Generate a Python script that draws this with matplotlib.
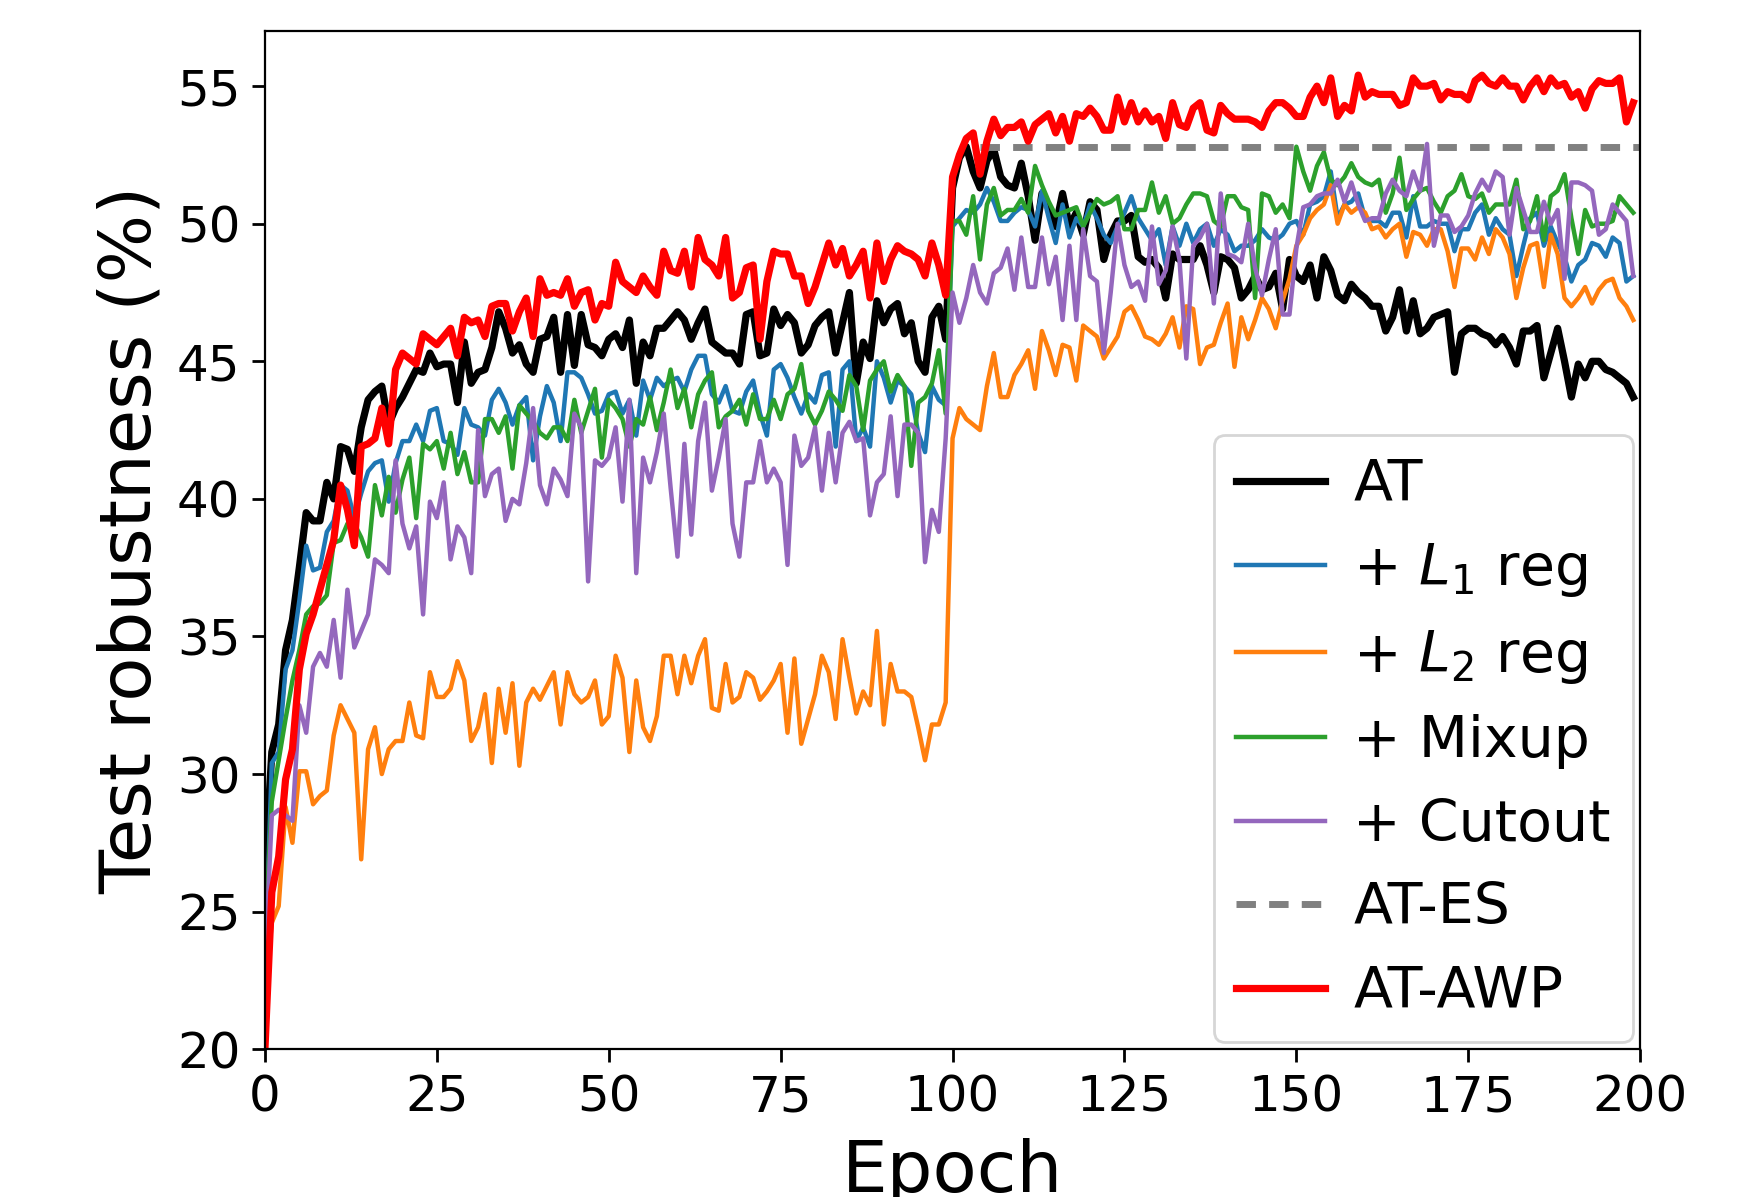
import matplotlib
matplotlib.use("Agg")
import matplotlib.pyplot as plt
import numpy as np

# test robustness (%) per epoch
at = [26.5, 30.8, 31.8, 34.5, 35.6, 37.5, 39.5, 39.2, 39.2, 40.6,
      40.0, 41.9, 41.8, 41.0, 42.6, 43.6, 43.9, 44.1, 42.7, 43.3,
      43.7, 44.2, 44.7, 44.6, 45.3, 44.8, 44.9, 44.9, 43.5, 45.7,
      44.2, 44.6, 44.7, 45.5, 46.8, 46.2, 45.3, 45.6, 44.9, 44.6,
      45.8, 45.9, 46.6, 44.6, 46.7, 44.85, 46.7, 45.6, 45.5, 45.2,
      45.8, 46.0, 45.5, 46.5, 44.2, 45.7, 45.2, 46.2, 46.2, 46.5,
      46.8, 46.5, 45.8, 46.4, 46.9, 45.7, 45.5, 45.3, 45.3, 44.9,
      46.7, 46.8, 45.2, 45.3, 46.9, 46.3, 46.7, 46.4, 45.3, 45.6,
      46.3, 46.6, 46.8, 45.3, 46.4, 47.5, 44.2, 45.7, 45.1, 47.2,
      46.4, 46.9, 47.1, 46.0, 46.4, 45.0, 44.6, 46.6, 47.0, 45.8,
      51.3, 52.4, 52.8, 51.9, 51.3, 52.3, 52.7, 51.7, 51.4, 51.3,
      52.2, 51.0, 49.4, 51.1, 50.6, 49.9, 51.1, 49.9, 50.4, 49.6,
      50.8, 50.5, 48.7, 49.6, 50.1, 50.1, 50.3, 48.8, 48.6, 48.7,
      48.4, 47.3, 48.9, 48.7, 48.7, 48.7, 49.2, 48.5, 47.5, 48.8,
      48.7, 48.4, 47.3, 47.6, 48.1, 47.6, 47.7, 48.2, 46.9, 48.7,
      48.1, 47.9, 48.5, 47.3, 48.8, 48.3, 47.4, 47.2, 47.8, 47.5,
      47.3, 47.0, 47.0, 46.1, 46.6, 47.6, 46.1, 47.2, 46.0, 46.2,
      46.6, 46.7, 46.8, 44.6, 46.0, 46.2, 46.2, 46.0, 45.9, 45.6,
      45.9, 45.5, 44.9, 46.1, 46.1, 46.3, 44.4, 45.3, 46.2, 45.0,
      43.7, 44.9, 44.4, 45.0, 45.0, 44.7, 44.6, 44.4, 44.2, 43.7]

l1_reg = [23.0, 30.4, 30.8, 33.8, 34.5, 36.3, 38.3, 37.4, 37.5, 38.8,
          39.2, 40.5, 40.3, 39.3, 40.2, 41.0, 41.3, 41.4, 39.9, 41.3,
          42.1, 42.1, 42.7, 42.1, 43.2, 43.3, 42.1, 42.0, 41.6, 43.3,
          42.7, 42.6, 42.3, 43.6, 44.0, 43.5, 42.7, 43.4, 43.7, 41.4,
          43.0, 44.1, 43.5, 42.1, 44.6, 44.6, 44.4, 43.8, 43.1, 43.2,
          43.8, 43.9, 43.1, 43.6, 42.3, 44.3, 43.6, 44.4, 44.1, 44.3,
          44.4, 43.9, 44.7, 45.2, 45.2, 43.8, 43.5, 44.1, 43.2, 43.1,
          43.9, 44.3, 43.1, 42.3, 44.7, 44.9, 44.4, 43.7, 43.1, 43.8,
          43.5, 44.5, 44.6, 41.9, 44.7, 45.0, 42.1, 42.6, 41.9, 45.0,
          44.4, 43.5, 44.3, 44.1, 43.8, 42.4, 41.7, 44.1, 43.6, 43.4,
          49.9, 50.2, 50.5, 50.4, 50.7, 51.3, 50.8, 50.1, 50.1, 50.4,
          50.6, 50.5, 49.9, 51.2, 50.2, 49.3, 50.7, 49.5, 50.2, 49.9,
          50.7, 50.2, 49.6, 49.3, 49.9, 50.4, 51.0, 50.2, 49.8, 49.4,
          49.8, 48.5, 49.9, 49.2, 50.0, 49.3, 49.8, 50.0, 49.2, 49.8,
          49.6, 49.0, 49.2, 49.2, 49.4, 49.8, 49.5, 49.4, 49.6, 50.0,
          50.1, 49.6, 50.7, 50.8, 51.0, 51.9, 50.2, 50.7, 50.8, 51.1,
          50.2, 50.1, 50.1, 49.9, 50.4, 50.4, 49.5, 51.0, 49.9, 49.9,
          50.1, 50.0, 50.0, 49.0, 49.8, 49.8, 50.4, 50.7, 49.6, 50.2,
          49.8, 49.6, 48.1, 49.2, 50.2, 50.4, 49.2, 49.9, 49.3, 48.8,
          47.9, 48.5, 48.7, 49.3, 49.2, 48.8, 49.5, 49.3, 47.9, 48.1]

l2_reg = [22.0, 24.6, 25.2, 28.8, 27.5, 30.1, 30.1, 28.9, 29.2, 29.4,
          31.4, 32.5, 32.0, 31.5, 26.9, 30.9, 31.7, 30.0, 30.9, 31.2,
          31.2, 32.6, 31.4, 31.3, 33.7, 32.8, 32.8, 33.1, 34.1, 33.4,
          31.2, 31.7, 32.9, 30.4, 33.1, 31.5, 33.3, 30.3, 32.6, 33.1,
          32.7, 33.2, 33.7, 31.8, 33.7, 32.9, 32.6, 32.8, 33.4, 31.8,
          32.1, 34.3, 33.5, 30.8, 33.4, 31.7, 31.2, 32.1, 34.3, 34.3,
          32.9, 34.3, 33.3, 34.3, 34.9, 32.4, 32.3, 34.0, 32.6, 32.8,
          33.7, 33.5, 32.7, 33.0, 33.4, 34.0, 31.5, 34.2, 31.1, 32.0,
          32.9, 34.3, 33.7, 32.0, 34.9, 33.5, 32.2, 33.0, 32.5, 35.2,
          31.8, 34.0, 33.0, 33.0, 32.8, 31.7, 30.5, 31.8, 31.8, 32.6,
          42.2, 43.3, 42.9, 42.7, 42.5, 44.1, 45.3, 43.7, 43.7, 44.5,
          44.9, 45.4, 44.0, 46.1, 45.4, 44.5, 45.6, 45.5, 44.3, 46.3,
          46.1, 45.9, 45.1, 45.5, 45.9, 46.8, 47.0, 46.5, 45.9, 45.8,
          45.6, 46.0, 46.6, 45.5, 47.0, 46.9, 44.9, 45.5, 45.6, 46.4,
          47.1, 44.8, 46.6, 45.8, 46.5, 47.3, 46.9, 46.2, 47.2, 48.0,
          49.2, 49.6, 50.2, 50.5, 50.7, 51.4, 50.0, 50.7, 50.4, 50.6,
          50.4, 49.8, 49.9, 49.5, 49.8, 50.0, 48.8, 49.7, 49.6, 49.2,
          49.8, 49.8, 49.0, 47.7, 49.1, 49.1, 48.7, 49.5, 48.9, 49.8,
          49.5, 48.9, 47.3, 48.4, 49.2, 49.3, 47.7, 49.6, 48.9, 47.3,
          47.0, 47.3, 47.7, 47.1, 47.6, 47.9, 48.0, 47.3, 47.0, 46.5]

mixup = [24.0, 29.0, 30.5, 32.0, 33.4, 34.5, 35.8, 36.1, 36.2, 36.5,
         38.4, 38.5, 39.1, 39.1, 38.6, 37.9, 40.5, 39.4, 40.8, 39.5,
         40.7, 41.5, 39.3, 42.0, 41.8, 42.1, 41.1, 42.4, 40.9, 41.7,
         40.6, 40.6, 42.9, 42.9, 42.4, 43.0, 41.1, 43.4, 43.1, 42.8,
         42.4, 42.2, 42.6, 42.6, 42.1, 43.6, 42.4, 43.2, 44.0, 41.5,
         43.6, 43.3, 42.9, 41.9, 42.9, 42.7, 43.7, 42.5, 43.5, 44.7,
         43.3, 44.0, 42.6, 43.8, 44.3, 44.6, 42.6, 43.0, 43.2, 43.6,
         42.7, 43.8, 42.9, 42.9, 43.6, 42.9, 43.8, 44.0, 44.9, 43.2,
         42.7, 43.2, 43.9, 43.6, 43.2, 44.5, 44.1, 42.5, 44.3, 44.7,
         45.0, 43.9, 44.5, 44.1, 41.2, 43.5, 43.7, 44.2, 45.4, 43.1,
         50.1, 50.1, 49.6, 51.0, 48.7, 50.7, 51.3, 50.3, 50.5, 50.5,
         50.9, 50.4, 52.1, 51.4, 50.8, 50.3, 50.4, 50.5, 50.6, 49.9,
         50.4, 50.9, 50.7, 50.8, 51.0, 49.8, 49.8, 50.5, 50.5, 51.5,
         50.4, 51.0, 50.0, 50.2, 50.7, 51.1, 51.1, 51.0, 50.1, 49.9,
         51.0, 51.0, 50.6, 50.5, 47.3, 51.1, 51.0, 50.4, 50.7, 50.2,
         52.8, 51.9, 51.2, 52.1, 52.6, 51.6, 51.4, 51.7, 52.2, 51.7,
         51.5, 51.4, 51.6, 50.4, 51.1, 52.4, 50.5, 50.9, 51.2, 51.3,
         50.8, 50.4, 51.0, 51.2, 51.8, 51.0, 50.9, 51.1, 50.4, 50.7,
         50.7, 50.7, 51.6, 49.8, 50.1, 51.0, 49.4, 51.0, 51.2, 51.8,
         50.2, 48.9, 50.5, 49.9, 50.0, 50.0, 50.1, 51.0, 50.7, 50.4]

cutout = [23.0, 28.5, 28.7, 28.5, 28.3, 32.5, 31.5, 33.9, 34.4, 33.9,
          35.6, 33.5, 36.7, 34.6, 35.2, 35.8, 37.8, 37.6, 37.3, 41.4,
          39.1, 38.2, 39.0, 35.8, 39.9, 39.3, 40.6, 37.8, 39.0, 38.6,
          37.3, 42.5, 40.1, 40.9, 41.1, 39.2, 40.0, 39.8, 41.3, 43.3,
          40.5, 39.8, 41.1, 40.7, 40.1, 43.1, 42.6, 37.0, 41.4, 41.2,
          41.5, 42.6, 39.9, 43.6, 37.3, 41.5, 40.6, 41.7, 43.1, 40.4,
          37.9, 42.0, 38.7, 42.1, 43.5, 40.3, 41.5, 42.9, 39.1, 37.9,
          40.6, 40.6, 42.1, 40.6, 41.1, 40.6, 37.6, 42.3, 41.2, 41.5,
          42.6, 40.3, 42.4, 40.6, 42.4, 42.8, 42.1, 42.2, 39.4, 40.6,
          40.9, 43.0, 40.1, 42.7, 42.7, 42.4, 37.7, 39.6, 38.8, 42.2,
          47.5, 46.4, 47.3, 48.5, 47.5, 47.1, 48.2, 48.4, 49.1, 47.6,
          49.5, 47.7, 47.7, 49.5, 47.8, 48.8, 46.5, 49.2, 46.5, 49.8,
          48.1, 47.9, 45.3, 47.5, 50.0, 48.5, 47.7, 47.9, 47.2, 49.9,
          47.8, 48.3, 49.9, 48.7, 45.1, 49.2, 49.5, 50.0, 47.1, 51.1,
          48.9, 48.8, 48.6, 50.0, 48.4, 47.4, 48.7, 49.8, 46.7, 46.7,
          49.1, 50.6, 50.7, 51.0, 51.1, 51.1, 51.6, 50.8, 51.5, 50.7,
          50.1, 50.2, 50.2, 51.1, 51.6, 51.2, 51.0, 51.9, 51.2, 52.9,
          49.2, 50.3, 50.3, 49.7, 49.9, 50.3, 51.1, 51.6, 51.2, 51.9,
          51.7, 49.6, 51.3, 50.5, 49.7, 49.7, 50.8, 50.0, 50.5, 48.0,
          51.5, 51.5, 51.4, 51.2, 49.6, 49.8, 50.7, 50.4, 50.1, 48.1]

at_awp = [20.0, 25.7, 27.0, 29.8, 30.9, 33.8, 35.1, 35.8, 36.7, 37.6,
          38.5, 40.5, 39.6, 38.3, 41.9, 42.0, 42.2, 43.3, 42.0, 44.7,
          45.3, 45.1, 44.9, 46.0, 45.8, 45.6, 45.9, 46.2, 45.2, 46.6,
          46.4, 46.5, 45.9, 47.0, 47.1, 47.1, 46.1, 46.8, 47.3, 45.9,
          48.0, 47.4, 47.5, 47.4, 48.0, 47.0, 47.5, 47.6, 46.5, 47.1,
          47.0, 48.6, 47.9, 47.7, 47.5, 48.1, 47.7, 47.4, 49.0, 48.3,
          48.2, 49.0, 47.7, 49.5, 48.7, 48.5, 48.1, 49.5, 47.3, 47.5,
          48.4, 48.5, 45.8, 47.9, 49.0, 48.9, 48.9, 48.1, 48.1, 47.1,
          47.7, 48.5, 49.3, 48.5, 49.1, 48.1, 48.5, 49.0, 47.3, 49.3,
          47.9, 48.7, 49.2, 49.0, 48.9, 48.7, 48.1, 49.3, 48.5, 47.4,
          51.7, 52.5, 53.1, 53.3, 51.8, 53.0, 53.8, 53.2, 53.5, 53.5,
          53.7, 53.0, 53.6, 53.8, 54.0, 53.3, 53.9, 53.0, 54.0, 53.9,
          54.2, 53.9, 53.4, 53.4, 54.6, 53.7, 54.4, 53.7, 54.1, 53.7,
          53.9, 53.1, 54.4, 53.6, 53.5, 54.2, 54.4, 53.4, 53.3, 54.3,
          54.0, 53.8, 53.8, 53.8, 53.7, 53.5, 54.1, 54.4, 54.4, 54.2,
          53.9, 53.9, 54.6, 55.0, 54.4, 55.3, 53.9, 54.3, 54.1, 55.4,
          54.6, 54.8, 54.7, 54.7, 54.7, 54.3, 54.4, 55.3, 55.0, 55.0,
          55.1, 54.5, 54.8, 54.7, 54.7, 54.5, 55.2, 55.4, 55.1, 55.0,
          55.3, 55.0, 55.0, 54.5, 55.0, 55.3, 54.8, 55.3, 55.0, 55.1,
          54.6, 54.8, 54.2, 54.9, 55.2, 55.1, 55.1, 55.3, 53.7, 54.4]

# early stopping of AT: best epoch and its robustness
es_epochs = [104, 200]
es_value = 52.8

epochs = np.arange(len(at))

fig = plt.figure(figsize=(8.715, 5.985), dpi=200)
ax = fig.add_axes([0.152, 0.1235, 0.789, 0.8505])

ax.plot(epochs, at, color="k", lw=2.6, label="AT")
ax.plot(epochs, l1_reg, color="C0", lw=1.6, label="+ $L_1$ reg")
ax.plot(epochs, l2_reg, color="C1", lw=1.6, label="+ $L_2$ reg")
ax.plot(epochs, mixup, color="C2", lw=1.6, label="+ Mixup")
ax.plot(epochs, cutout, color="C4", lw=1.6, label="+ Cutout")
ax.plot(es_epochs, [es_value] * len(es_epochs), color="gray", lw=2.5,
        ls=(0, (2.8, 1.9)), label="AT-ES")
ax.plot(epochs, at_awp, color="r", lw=2.6, label="AT-AWP")

ax.set_xlim(0, 200)
ax.set_ylim(20, 57)
ax.set_xticks(np.arange(0, 201, 25))
ax.set_yticks(np.arange(20, 56, 5))
ax.tick_params(labelsize=18, length=4.8, width=1.0, pad=4)
ax.set_xlabel("Epoch", fontsize=26, labelpad=6)
ax.set_ylabel("Test robustness (%)", fontsize=26)

ax.legend(loc="lower right", fontsize=20.5, handlelength=1.55,
          handletextpad=0.5, borderaxespad=0.12, labelspacing=0.5)

fig.savefig("out.png", dpi=200)
